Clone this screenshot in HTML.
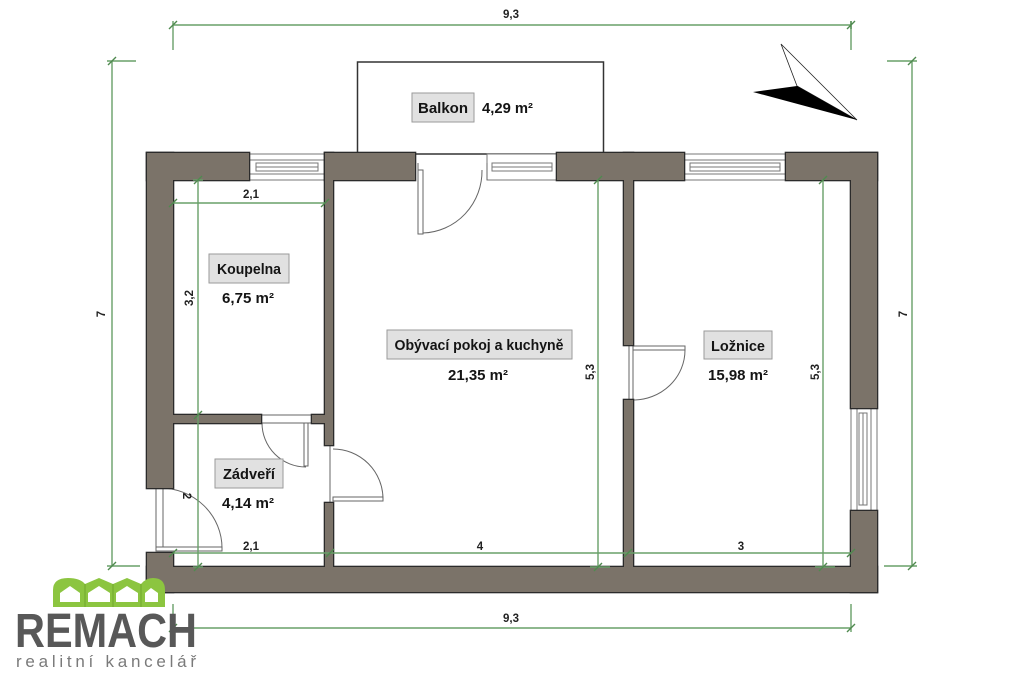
<!DOCTYPE html>
<html>
<head>
<meta charset="utf-8">
<style>
html,body{margin:0;padding:0;background:#fff;}
svg{display:block;}
text{font-family:"Liberation Sans",sans-serif;}
</style>
</head>
<body>
<svg width="1024" height="683" viewBox="0 0 1024 683" xmlns="http://www.w3.org/2000/svg">
<rect x="0" y="0" width="1024" height="683" fill="#fff"/>

<!-- Balcony -->
<rect x="357.5" y="62" width="246" height="92" fill="#fff" stroke="#333" stroke-width="1.5"/>

<!-- Window openings (white) -->
<g fill="#fff" stroke="#777" stroke-width="1">
  <rect x="249" y="154" width="76" height="26"/>
  <rect x="487" y="154" width="70" height="26"/>
  <rect x="684" y="154" width="102" height="26"/>
  <rect x="851" y="408" width="26" height="103"/>
</g>
<g fill="none" stroke="#777" stroke-width="1">
  <!-- sashes -->
  <rect x="256" y="163" width="62" height="8"/>
  <line x1="256" y1="167" x2="318" y2="167"/>
  <rect x="492" y="163" width="60" height="8"/>
  <line x1="492" y1="167" x2="552" y2="167"/>
  <rect x="690" y="163" width="90" height="8"/>
  <line x1="690" y1="167" x2="780" y2="167"/>
  <rect x="859" y="413" width="8" height="92"/>
  <line x1="863" y1="413" x2="863" y2="505"/>
  <line x1="249" y1="160" x2="325" y2="160"/>
  <line x1="249" y1="174" x2="325" y2="174"/>
  <line x1="684" y1="160" x2="786" y2="160"/>
  <line x1="684" y1="174" x2="786" y2="174"/>
  <line x1="857" y1="408" x2="857" y2="511"/>
  <line x1="871" y1="408" x2="871" y2="511"/>
</g>

<!-- Doors -->
<g fill="none" stroke="#666" stroke-width="1">
  <!-- top door (balcony) -->
  <line x1="418" y1="163" x2="418" y2="180"/>
  <line x1="487" y1="163" x2="487" y2="180"/>
  <rect x="418" y="170" width="5" height="64" fill="#fff"/>
  <path d="M482,170 A61,62 0 0 1 423,233"/>
  <!-- Ložnice door -->
  <rect x="629" y="345" width="4" height="55"/>
  <rect x="633" y="346" width="52" height="4" fill="#fff"/>
  <path d="M685,350 A52,50 0 0 1 633,400"/>
  <!-- Koupelna / Zádveří door -->
  <line x1="261" y1="415" x2="312" y2="415"/>
  <line x1="261" y1="423" x2="312" y2="423"/>
  <rect x="304" y="423" width="4" height="43" fill="#fff"/>
  <path d="M262,423 A44,44 0 0 0 306,467"/>
  <!-- Zádveří / living door -->
  <line x1="330" y1="445" x2="330" y2="503"/>
  <rect x="333" y="497" width="50" height="4" fill="#fff"/>
  <path d="M333,449 A50,50 0 0 1 383,499"/>
  <!-- left entry door -->
  <line x1="156" y1="488" x2="156" y2="548"/>
  <line x1="163" y1="488" x2="163" y2="548"/>
  <rect x="156" y="547" width="66" height="4" fill="#fff"/>
  <path d="M160,488 A62,60 0 0 1 222,548"/>
</g>

<!-- Walls: stroked pass then fill pass (union outline) -->
<g fill="#7b7369" stroke="#2b2b2b" stroke-width="2.6">
  <rect x="147" y="153" width="102" height="27"/>
  <rect x="147" y="153" width="26" height="335"/>
  <rect x="325" y="153" width="90" height="27"/>
  <rect x="325" y="153" width="8" height="292"/>
  <rect x="325" y="503" width="8" height="65"/>
  <rect x="173" y="415" width="88" height="8"/>
  <rect x="312" y="415" width="14" height="8"/>
  <rect x="557" y="153" width="127" height="27"/>
  <rect x="624" y="153" width="9" height="192"/>
  <rect x="624" y="400" width="9" height="168"/>
  <rect x="786" y="153" width="91" height="27"/>
  <rect x="851" y="153" width="26" height="255"/>
  <rect x="851" y="511" width="26" height="81"/>
  <rect x="147" y="567" width="730" height="25"/>
  <rect x="147" y="553" width="26" height="39"/>
</g>
<g fill="#7b7369" stroke="none">
  <rect x="147" y="153" width="102" height="27"/>
  <rect x="147" y="153" width="26" height="335"/>
  <rect x="325" y="153" width="90" height="27"/>
  <rect x="325" y="153" width="8" height="292"/>
  <rect x="325" y="503" width="8" height="65"/>
  <rect x="173" y="415" width="88" height="8"/>
  <rect x="312" y="415" width="14" height="8"/>
  <rect x="557" y="153" width="127" height="27"/>
  <rect x="624" y="153" width="9" height="192"/>
  <rect x="624" y="400" width="9" height="168"/>
  <rect x="786" y="153" width="91" height="27"/>
  <rect x="851" y="153" width="26" height="255"/>
  <rect x="851" y="511" width="26" height="81"/>
  <rect x="147" y="567" width="730" height="25"/>
  <rect x="147" y="553" width="26" height="39"/>
</g>

<!-- Dimension lines -->
<g stroke="#68a068" stroke-width="1.4" fill="none">
  <!-- top 9,3 -->
  <line x1="173" y1="25" x2="851" y2="25"/>
  <line x1="173" y1="21" x2="173" y2="50"/>
  <line x1="851" y1="21" x2="851" y2="50"/>
  <!-- bottom 9,3 -->
  <line x1="173" y1="628" x2="851" y2="628"/>
  <line x1="173" y1="604" x2="173" y2="632"/>
  <line x1="851" y1="604" x2="851" y2="632"/>
  <!-- left 7 -->
  <line x1="112" y1="61" x2="112" y2="566"/>
  <line x1="107" y1="61" x2="136" y2="61"/>
  <line x1="107" y1="566" x2="140" y2="566"/>
  <!-- right 7 -->
  <line x1="912" y1="61" x2="912" y2="566"/>
  <line x1="887" y1="61" x2="917" y2="61"/>
  <line x1="884" y1="566" x2="917" y2="566"/>
  <!-- Koupelna 2,1 -->
  <line x1="173" y1="203" x2="325" y2="203"/>
  <!-- vertical x=198 -->
  <line x1="198" y1="179" x2="198" y2="568"/>
  <line x1="193" y1="180" x2="203" y2="180"/>
  <line x1="193" y1="567" x2="203" y2="567"/>
  <!-- bottom row -->
  <line x1="173" y1="553" x2="851" y2="553"/>
  <!-- 5,3 verticals -->
  <line x1="598" y1="179" x2="598" y2="568"/>
  <line x1="823" y1="179" x2="823" y2="568"/>
  <line x1="590" y1="567" x2="610" y2="567"/>
  <line x1="815" y1="567" x2="835" y2="567"/>
</g>
<!-- tick marks -->
<g stroke="#4f8a4f" stroke-width="1.4">
  <path d="M169,29 L177,21 M851,21 L851,29 M847,29 L855,21"/>
  <path d="M169,632 L177,624 M847,632 L855,624"/>
  <path d="M108,65 L116,57 M108,570 L116,562"/>
  <path d="M908,65 L916,57 M908,570 L916,562"/>
  <path d="M169,207 L177,199 M321,207 L329,199"/>
  <path d="M194,184 L202,176 M194,419 L202,411 M194,571 L202,563"/>
  <path d="M169,557 L177,549 M326,557 L334,549 M624,557 L632,549 M847,557 L855,549"/>
  <path d="M594,184 L602,176 M594,571 L602,563 M819,184 L827,176 M819,571 L827,563"/>
</g>

<!-- Dimension labels -->
<g font-size="11.5" fill="#222" text-anchor="middle" font-weight="bold">
  <text x="511" y="18">9,3</text>
  <text x="511" y="622">9,3</text>
  <text x="251" y="198">2,1</text>
  <text x="251" y="550">2,1</text>
  <text x="480" y="550">4</text>
  <text x="741" y="550">3</text>
  <text transform="translate(101,314) rotate(-90)" dy="4">7</text>
  <text transform="translate(903,314) rotate(-90)" dy="4">7</text>
  <text transform="translate(189,298) rotate(-90)" dy="4">3,2</text>
  <text transform="translate(187,496) rotate(90)" dy="4">2</text>
  <text transform="translate(590,372) rotate(-90)" dy="4">5,3</text>
  <text transform="translate(815,372) rotate(-90)" dy="4">5,3</text>
</g>

<!-- Room labels -->
<g fill="#e1e1e1" stroke="#9a9a9a" stroke-width="1">
  <rect x="412" y="93" width="62" height="29"/>
  <rect x="209" y="254" width="80" height="29"/>
  <rect x="387" y="330" width="185" height="29"/>
  <rect x="704" y="331" width="68" height="28"/>
  <rect x="215" y="459" width="68" height="29"/>
</g>
<g font-size="14.5" font-weight="bold" fill="#141414">
  <text x="443" y="113" text-anchor="middle" textLength="50" lengthAdjust="spacingAndGlyphs">Balkon</text>
  <text x="482" y="113" textLength="51" lengthAdjust="spacingAndGlyphs">4,29 m²</text>
  <text x="249" y="274" text-anchor="middle" textLength="64" lengthAdjust="spacingAndGlyphs">Koupelna</text>
  <text x="248" y="303" text-anchor="middle" textLength="52" lengthAdjust="spacingAndGlyphs">6,75 m²</text>
  <text x="479" y="350" text-anchor="middle" textLength="169" lengthAdjust="spacingAndGlyphs">Obývací pokoj a kuchyně</text>
  <text x="478" y="380" text-anchor="middle" textLength="60" lengthAdjust="spacingAndGlyphs">21,35 m²</text>
  <text x="738" y="351" text-anchor="middle" textLength="54" lengthAdjust="spacingAndGlyphs">Ložnice</text>
  <text x="738" y="380" text-anchor="middle" textLength="60" lengthAdjust="spacingAndGlyphs">15,98 m²</text>
  <text x="249" y="479" text-anchor="middle" textLength="52" lengthAdjust="spacingAndGlyphs">Zádveří</text>
  <text x="248" y="508" text-anchor="middle" textLength="52" lengthAdjust="spacingAndGlyphs">4,14 m²</text>
</g>

<!-- Compass -->
<polygon points="781,44 797,86 857,120" fill="#fff" stroke="#222" stroke-width="0.8"/>
<polygon points="753,92 797,86 857,120" fill="#000"/>

<!-- Logo -->
<g>
  <path d="M53,607 L53,590 Q53,578 68,578 Q80,578 85,584 L99,578 L113,584 L127,578 L141,584 Q146,578 153,578 Q165,578 165,590 L165,607 Z" fill="#8cc540"/>
  <g fill="#fff">
    <polygon points="60,602 60,593 70,586 80,593 80,602"/>
    <polygon points="88,602 88,593 99,586 110,593 110,602"/>
    <polygon points="116,602 116,593 127,586 138,593 138,602"/>
    <polygon points="145,602 145,593 151,588 158,593 158,602"/>
  </g>
  <g stroke="#7ab032" stroke-width="1.5">
    <line x1="85" y1="584" x2="85" y2="607"/>
    <line x1="113" y1="584" x2="113" y2="607"/>
    <line x1="141" y1="584" x2="141" y2="607"/>
  </g>
  <text x="15" y="647" font-size="48" font-weight="bold" fill="#585858" textLength="182" lengthAdjust="spacingAndGlyphs">REMACH</text>
  <text x="16" y="667" font-size="17" fill="#7a7a7a" textLength="180" lengthAdjust="spacing">realitní kancelář</text>
</g>
</svg>
</body>
</html>
